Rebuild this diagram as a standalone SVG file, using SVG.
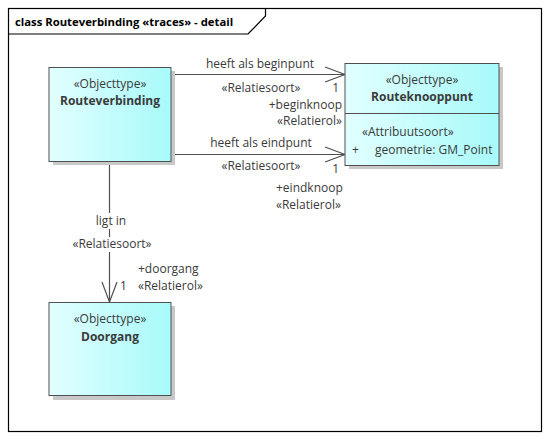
<svg xmlns="http://www.w3.org/2000/svg" width="550" height="439" viewBox="0 0 550 439">
  <defs>
    <linearGradient id="fill" x1="0" y1="0" x2="1" y2="0">
      <stop offset="0" stop-color="#e2ffff"/>
      <stop offset="1" stop-color="#a8fafa"/>
    </linearGradient>
    <style>
      text { font-family: "Open Sans", "Liberation Sans", Arial, sans-serif; font-size: 12px; fill: #3a3a3a; }
      .b { font-weight: bold; }
      .c { text-anchor: middle; }
      .e { text-anchor: end; }
      .box { fill: url(#fill); stroke: #505050; stroke-width: 1; }
      .shadow { fill: #c8c8c8; }
      .line { fill: none; stroke: #505050; stroke-width: 1.2; }
      .frame { fill: none; stroke: #000; stroke-width: 1.2; }
    </style>
  </defs>
  <rect x="0" y="0" width="550" height="439" fill="#fff"/>

  <g id="frame">
    <rect class="frame" x="8.5" y="8.5" width="533" height="423"/>
    <path class="frame" d="M8.5,34 L248,34 L265.5,16 L265.5,8.5"/>
    <text x="15" y="25.5" class="b" style="fill:#000;font-size:11.3px">class Routeverbinding «traces» - detail</text>
  </g>

  <g id="connectors">
    <!-- beginpunt -->
    <line class="line" x1="171" y1="74.5" x2="345" y2="74.5"/>
    <polyline class="line" points="325,67 345,74.5 325,82"/>
    <text x="260" y="68" class="c">heeft als beginpunt</text>
    <text x="261" y="92" class="c">«Relatiesoort»</text>
    <text x="339" y="92" class="e">1</text>
    <text x="342" y="109" class="e">+beginknoop</text>
    <text x="342" y="124.5" class="e">«Relatierol»</text>
    <!-- eindpunt -->
    <line class="line" x1="171" y1="154.5" x2="345" y2="154.5"/>
    <polyline class="line" points="325,147 345,154.5 325,162"/>
    <text x="261" y="147" class="c">heeft als eindpunt</text>
    <text x="261" y="170" class="c">«Relatiesoort»</text>
    <text x="339" y="173" class="e">1</text>
    <text x="276" y="192">+eindknoop</text>
    <text x="276" y="208.5">«Relatierol»</text>
    <!-- ligt in -->
    <line class="line" x1="109.5" y1="161" x2="109.5" y2="302"/>
    <polyline class="line" points="102,282 109.5,302 117,282"/>
    <rect x="95" y="213" width="32" height="16" fill="#fff"/>
    <text x="111" y="225" class="c">ligt in</text>
    <rect x="71" y="237" width="83" height="15" fill="#fff"/>
    <text x="112" y="248" class="c">«Relatiesoort»</text>
    <text x="138" y="273">+doorgang</text>
    <text x="120" y="290">1</text>
    <text x="138" y="290">«Relatierol»</text>
  </g>

  <g id="Routeverbinding">
    <rect class="shadow" x="53" y="71" width="122" height="94"/>
    <rect class="box" x="49" y="67.5" width="122" height="94"/>
    <text x="110" y="88" class="c">«Objecttype»</text>
    <text x="110" y="105" class="c b">Routeverbinding</text>
  </g>

  <g id="Routeknooppunt">
    <rect class="shadow" x="349" y="67" width="154" height="102"/>
    <rect class="box" x="345" y="63.5" width="154" height="102"/>
    <line x1="345" y1="113.5" x2="499" y2="113.5" stroke="#505050" stroke-width="1"/>
    <text x="422" y="84" class="c">«Objecttype»</text>
    <text x="422" y="101" class="c b">Routeknooppunt</text>
    <text x="362" y="136">«Attribuutsoort»</text>
    <text x="352" y="154">+</text>
    <text x="375" y="154">geometrie: GM_Point</text>
  </g>

  <g id="Doorgang">
    <rect class="shadow" x="53" y="306" width="122" height="94"/>
    <rect class="box" x="49" y="302.5" width="122" height="93"/>
    <text x="110" y="323" class="c">«Objecttype»</text>
    <text x="110" y="341" class="c b">Doorgang</text>
  </g>
</svg>
